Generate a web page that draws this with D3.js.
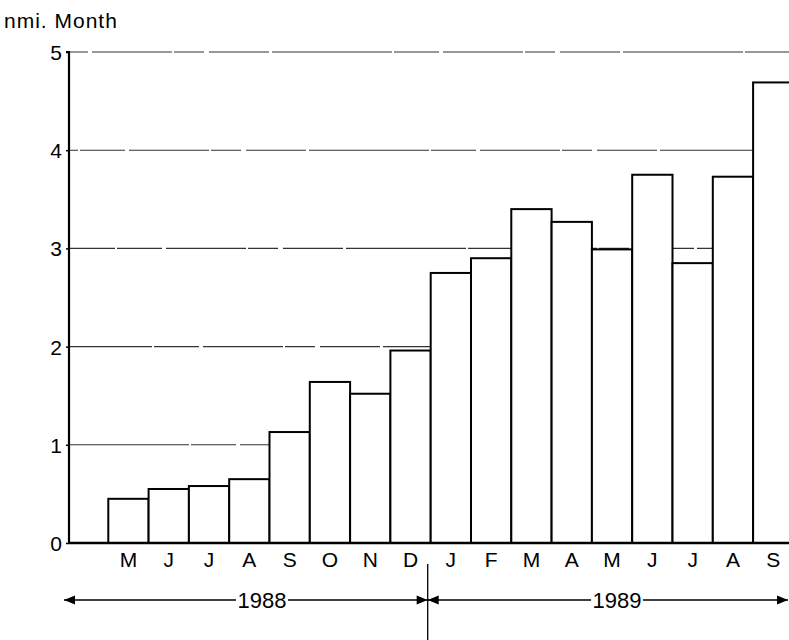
<!DOCTYPE html>
<html>
<head>
<meta charset="utf-8">
<script src="https://cdn.jsdelivr.net/npm/d3@7/dist/d3.min.js"></script>
<style>
  html, body { margin: 0; padding: 0; background: #fff; }
  svg { display: block; }
  text { font-family: "Liberation Sans", Arial, Helvetica, sans-serif; fill: #000; }
</style>
</head>
<body>
<svg id="chart" width="789" height="640"></svg>
<script>
// Monthly values, May 1988 – September 1989
const months = ["M", "J", "J", "A", "S", "O", "N", "D", "J", "F", "M", "A", "M", "J", "J", "A", "S"];
const values = [0.45, 0.55, 0.58, 0.65, 1.13, 1.64, 1.52, 1.96, 2.75, 2.90, 3.40, 3.27, 2.99, 3.75, 2.85, 3.73, 4.69];
const yTicks = [0, 1, 2, 3, 4, 5];
const years = ["1988", "1989"];
const unitLabel = "nmi. Month";

const svg = d3.select("#chart");
const W = 789, H = 640;

const axisX = 69;
const slot = 40.3;
// slot 0 is left empty, bars occupy slots 1..17
const slots = d3.range(months.length + 1);
const x = d3.scaleBand()
  .domain(slots)
  .range([axisX - 1, axisX - 1 + slots.length * slot])
  .paddingInner(0).paddingOuter(0);

const y = d3.scaleLinear().domain([0, 5]).range([543, 52]);

// horizontal grid lines (thin, slightly broken)
const gridDash = "120,2,45,4,80,2,30,5,60,3";
svg.append("g").selectAll("line")
  .data(yTicks.filter(d => d > 0))
  .join("line")
  .attr("x1", axisX).attr("x2", W)
  .attr("y1", d => y(d)).attr("y2", d => y(d))
  .attr("stroke", "#333")
  .attr("stroke-width", 1.1)
  .attr("stroke-dasharray", gridDash)
  .attr("stroke-dashoffset", (d, i) => i * 37);

// bars
svg.append("g").selectAll("rect")
  .data(values)
  .join("rect")
  .attr("x", (d, i) => x(i + 1))
  .attr("width", x.bandwidth())
  .attr("y", d => y(d))
  .attr("height", d => y(0) - y(d))
  .attr("fill", "#fff")
  .attr("stroke", "#000")
  .attr("stroke-width", 2);

// y axis
const yAxis = d3.axisLeft(y).tickValues(yTicks).tickFormat(d3.format("d")).tickSize(3).tickPadding(4);
const gy = svg.append("g").attr("transform", `translate(${axisX},0)`).call(yAxis);
gy.select(".domain").attr("stroke", "#000").attr("stroke-width", 2.2).attr("d", `M-3,${y(5)}H0V${y(0)}`);
gy.selectAll(".tick line").attr("stroke", "#000").attr("stroke-width", 1.5);
gy.selectAll(".tick text")
  .style("font-family", "'Liberation Sans', Arial, sans-serif")
  .style("font-size", "21px")
  .attr("fill", "#000")
  .attr("dy", "0.36em");

// x axis with month letters
const xAxis = d3.axisBottom(x)
  .tickValues(d3.range(1, months.length + 1))
  .tickFormat(i => months[i - 1])
  .tickSize(0).tickPadding(9);
const gx = svg.append("g").attr("transform", `translate(0,${y(0)})`).call(xAxis);
gx.select(".domain").attr("stroke", "#000").attr("stroke-width", 2.5)
  .attr("d", `M${axisX},0H${W}`);
gx.selectAll(".tick text")
  .style("font-family", "'Liberation Sans', Arial, sans-serif")
  .style("font-size", "21px")
  .attr("fill", "#000");

// unit label
svg.append("text")
  .attr("x", 4).attr("y", 28)
  .style("font-size", "21px")
  .style("letter-spacing", "1px")
  .text(unitLabel);

// year spans with arrows
const defs = svg.append("defs");
defs.append("marker")
  .attr("id", "arr")
  .attr("viewBox", "0 0 10 10")
  .attr("refX", 10).attr("refY", 5)
  .attr("markerWidth", 15).attr("markerHeight", 11)
  .attr("markerUnits", "userSpaceOnUse")
  .attr("orient", "auto-start-reverse")
  .append("path").attr("d", "M0,1L10,5L0,9Z").attr("fill", "#000");

const arrowY = 600;
const divX = x(9) - 3;       // boundary between December and January
const yearSpans = [
  { label: years[0], x0: axisX - 5, x1: divX, mid: 262 },
  { label: years[1], x0: divX, x1: W - 1, mid: 617 }
];

const gYears = svg.append("g");
yearSpans.forEach(s => {
  const half = 26;
  gYears.append("line")
    .attr("x1", s.x0).attr("x2", s.mid - half)
    .attr("y1", arrowY).attr("y2", arrowY)
    .attr("stroke", "#000").attr("stroke-width", 1.3)
    .attr("marker-start", "url(#arr)");
  gYears.append("line")
    .attr("x1", s.mid + half).attr("x2", s.x1)
    .attr("y1", arrowY).attr("y2", arrowY)
    .attr("stroke", "#000").attr("stroke-width", 1.3)
    .attr("marker-end", "url(#arr)");
  gYears.append("text")
    .attr("x", s.mid).attr("y", arrowY + 8)
    .attr("text-anchor", "middle")
    .style("font-size", "22px")
    .text(s.label);
});

// divider between the two years
svg.append("line")
  .attr("x1", divX).attr("x2", divX)
  .attr("y1", 564).attr("y2", H)
  .attr("stroke", "#000").attr("stroke-width", 1.3);
</script>
</body>
</html>
